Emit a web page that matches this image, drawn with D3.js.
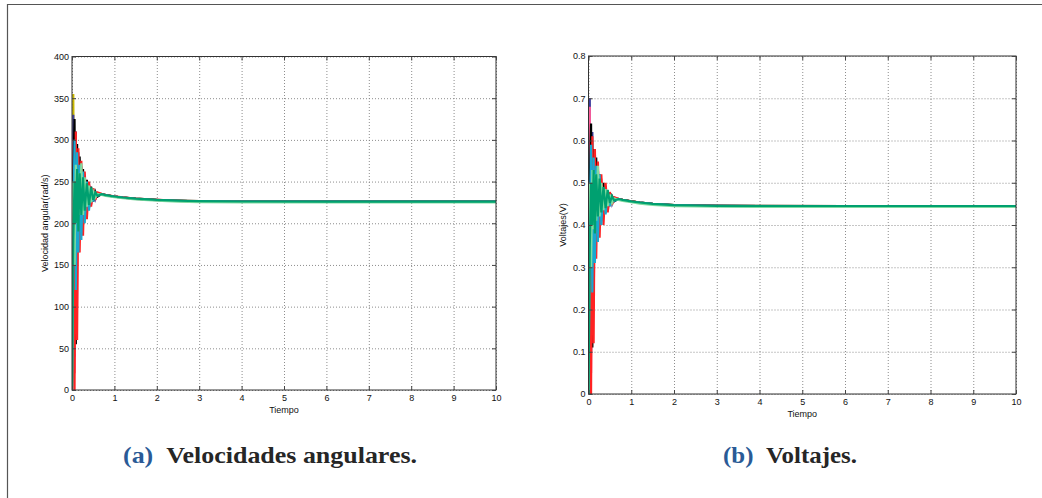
<!DOCTYPE html>
<html>
<head>
<meta charset="utf-8">
<script src="https://cdn.jsdelivr.net/npm/d3@7"></script>
<style>
  body { margin: 0; background: #fff; }
  svg { display: block; }
  .tick text { font-family: "Liberation Sans", Arial, sans-serif; font-size: 9px; fill: #111; }
  .grid line { stroke: #808080; stroke-dasharray: 1,2; stroke-width: 0.9; }
  .grid path { stroke: none; }
  .axis path { stroke: none; }
  .axis line { stroke: #444; }
</style>
</head>
<body>
<div id="chart"></div>
<script>
// sample times (s), shared by every series
const timeSteps = [0, 0.03, 0.06, 0.09, 0.12, 0.15, 0.18, 0.22, 0.26, 0.30, 0.35, 0.40, 0.45, 0.50, 0.55, 0.60,
  0.70, 0.80, 1.0, 1.2, 1.5, 2.0, 2.5, 3.0, 4.0, 6.0, 10.0];

const seriesColors = ["#c9b800", "#3b3b9c", "#ff5c9a", "#000000", "#ff2222", "#18a8d0", "#7fdca0", "#00a070"];

// velocidad angular (rad/s)
const velYellow = [0, 355, 120, 300, 190, 270, 205, 255, 215, 246, 222, 240, 226, 237, 230, 235,
  234.5, 233.5, 232, 230.8, 229.4, 227.9, 227, 226.4, 226, 226, 226];
const velNavy = [0, 330, 40, 310, 150, 285, 190, 268, 205, 255, 215, 246, 223, 240, 229, 236,
  234.8, 233.6, 231.9, 230.7, 229.3, 227.8, 226.9, 226.3, 225.9, 226, 226];
const velPink = [0, 300, 20, 280, 100, 260, 180, 265, 200, 258, 212, 248, 222, 240, 230, 235,
  234.6, 233.5, 231.9, 230.7, 229.3, 227.8, 226.9, 226.3, 226, 226, 226];
const velBlack = [0, 260, 325, 55, 295, 170, 280, 190, 265, 205, 252, 218, 244, 226, 238, 232,
  235, 233.8, 232.1, 230.9, 229.5, 228, 227, 226.4, 226, 226, 226];
const velRed = [0, 120, 0, 310, 60, 290, 165, 275, 185, 262, 205, 250, 220, 242, 228, 237,
  235.2, 233.9, 232.2, 231, 229.6, 228.1, 227.1, 226.5, 226, 226, 226];
const velCyan = [0, 200, 300, 120, 285, 165, 270, 180, 262, 200, 250, 215, 242, 226, 236, 233,
  234.7, 233.6, 232, 230.8, 229.4, 227.9, 227, 226.4, 225.9, 226, 226];
const velLightGreen = [0, 250, 150, 270, 200, 260, 210, 272, 210, 255, 220, 245, 225, 238, 231, 235,
  234.1, 232.9, 231.2, 230, 228.5, 227, 226, 225.4, 225, 225, 225];
const velGreen = [0, 180, 250, 200, 265, 190, 260, 210, 255, 215, 248, 222, 243, 228, 237, 233,
  234.9, 233.7, 232.1, 230.9, 229.5, 228, 227.1, 226.5, 226.1, 226, 226];

// voltajes (V)
const voltYellow = [0, 0.64, 0.25, 0.60, 0.36, 0.54, 0.40, 0.51, 0.42, 0.49, 0.43, 0.475, 0.44, 0.468, 0.452, 0.463,
  0.461, 0.459, 0.456, 0.453, 0.450, 0.447, 0.446, 0.4455, 0.445, 0.445, 0.445];
const voltNavy = [0, 0.70, 0.10, 0.62, 0.30, 0.57, 0.38, 0.53, 0.41, 0.50, 0.425, 0.485, 0.438, 0.472, 0.45, 0.465,
  0.4615, 0.4592, 0.4558, 0.4528, 0.4498, 0.4468, 0.4458, 0.4452, 0.4449, 0.445, 0.445];
const voltPink = [0, 0.68, 0.05, 0.56, 0.20, 0.52, 0.36, 0.53, 0.40, 0.51, 0.42, 0.49, 0.435, 0.47, 0.452, 0.463,
  0.4608, 0.4588, 0.4556, 0.4527, 0.4497, 0.4467, 0.4457, 0.4451, 0.445, 0.445, 0.445];
const voltBlack = [0, 0.50, 0.64, 0.11, 0.58, 0.34, 0.56, 0.38, 0.52, 0.41, 0.50, 0.43, 0.48, 0.445, 0.468, 0.456,
  0.4618, 0.4595, 0.4561, 0.4531, 0.4501, 0.4471, 0.446, 0.4454, 0.445, 0.445, 0.445];
const voltRed = [0, 0.25, 0.00, 0.61, 0.12, 0.58, 0.32, 0.55, 0.37, 0.52, 0.40, 0.50, 0.43, 0.478, 0.448, 0.466,
  0.4622, 0.4598, 0.4563, 0.4533, 0.4503, 0.4473, 0.4462, 0.4455, 0.4451, 0.445, 0.445];
const voltCyan = [0, 0.40, 0.59, 0.24, 0.56, 0.31, 0.54, 0.36, 0.52, 0.40, 0.49, 0.425, 0.478, 0.445, 0.466, 0.457,
  0.4612, 0.459, 0.4557, 0.4529, 0.4499, 0.4469, 0.4459, 0.4453, 0.4449, 0.445, 0.445];
const voltLightGreen = [0, 0.50, 0.30, 0.53, 0.39, 0.52, 0.41, 0.54, 0.42, 0.50, 0.435, 0.485, 0.445, 0.472, 0.452, 0.463,
  0.4595, 0.4572, 0.4538, 0.4508, 0.4478, 0.4449, 0.4438, 0.4432, 0.4428, 0.4427, 0.4427];
const voltGreen = [0, 0.35, 0.50, 0.40, 0.53, 0.38, 0.52, 0.42, 0.51, 0.43, 0.49, 0.44, 0.483, 0.452, 0.468, 0.458,
  0.4615, 0.4595, 0.456, 0.4532, 0.4502, 0.4472, 0.4461, 0.4455, 0.4451, 0.445, 0.445];

const xTickValues = [0, 1, 2, 3, 4, 5, 6, 7, 8, 9, 10];
const velTickValues = [0, 50, 100, 150, 200, 250, 300, 350, 400];
const voltTickValues = [0, 0.1, 0.2, 0.3, 0.4, 0.5, 0.6, 0.7, 0.8];

const W = 1042, H = 498;
const svg = d3.select("#chart").append("svg").attr("width", W).attr("height", H);

// page frame (top and left rules)
svg.append("line").attr("x1", 7).attr("x2", W).attr("y1", 4.5).attr("y2", 4.5)
  .attr("stroke", "#555").attr("stroke-width", 1.2);
svg.append("line").attr("x1", 7.5).attr("x2", 7.5).attr("y1", 4).attr("y2", H)
  .attr("stroke", "#555").attr("stroke-width", 1.2);

function drawPanel(cfg) {
  const g = svg.append("g");
  const x = d3.scaleLinear().domain([0, 10]).range([cfg.left, cfg.right]);
  const y = d3.scaleLinear().domain(cfg.yDomain).range([cfg.bottom, cfg.top]);
  const w = cfg.right - cfg.left, h = cfg.bottom - cfg.top;

  // dotted grid
  g.append("g").attr("class", "grid").attr("transform", `translate(0,${cfg.bottom})`)
    .call(d3.axisBottom(x).tickValues(xTickValues).tickSize(-h).tickFormat(""));
  g.append("g").attr("class", "grid").attr("transform", `translate(${cfg.left},0)`)
    .call(d3.axisLeft(y).tickValues(cfg.yTicks).tickSize(-w).tickFormat(""));

  const clipId = "clip" + cfg.id;
  svg.append("clipPath").attr("id", clipId).append("rect")
    .attr("x", cfg.left).attr("y", cfg.top - 1).attr("width", w).attr("height", h + 1);

  const line = d3.line().x((d, i) => x(timeSteps[i])).y(d => y(d));
  g.append("g").attr("clip-path", `url(#${clipId})`)
    .selectAll("path").data(cfg.series).join("path")
    .attr("d", d => line(d))
    .attr("fill", "none")
    .attr("stroke", (d, i) => seriesColors[i])
    .attr("stroke-width", 2.2)
    .attr("stroke-linejoin", "miter");

  // box
  g.append("rect").attr("x", cfg.left).attr("y", cfg.top).attr("width", w).attr("height", h)
    .attr("fill", "none").attr("stroke", "#333").attr("stroke-width", 1);

  // axes with inward ticks
  g.append("g").attr("class", "axis").attr("transform", `translate(0,${cfg.bottom})`)
    .call(d3.axisBottom(x).tickValues(xTickValues).tickSize(-4).tickPadding(5).tickFormat(d3.format("d")));
  g.append("g").attr("class", "axis").attr("transform", `translate(0,${cfg.top})`)
    .call(d3.axisTop(x).tickValues(xTickValues).tickSize(-4).tickFormat(""));
  g.append("g").attr("class", "axis").attr("transform", `translate(${cfg.left},0)`)
    .call(d3.axisLeft(y).tickValues(cfg.yTicks).tickSize(-4).tickPadding(3).tickFormat(cfg.yFormat));
  g.append("g").attr("class", "axis").attr("transform", `translate(${cfg.right},0)`)
    .call(d3.axisRight(y).tickValues(cfg.yTicks).tickSize(-4).tickFormat(""));

  g.append("text").attr("x", (cfg.left + cfg.right) / 2).attr("y", cfg.bottom + 23)
    .attr("text-anchor", "middle").attr("font-family", "Liberation Sans, Arial, sans-serif")
    .attr("font-size", 9).attr("fill", "#111").text("Tiempo");
  g.append("text")
    .attr("transform", `translate(${cfg.yLabelX},${(cfg.top + cfg.bottom) / 2}) rotate(-90)`)
    .attr("text-anchor", "middle").attr("font-family", "Liberation Sans, Arial, sans-serif")
    .attr("font-size", 9).attr("fill", "#111").text(cfg.yLabel);

  const cap = g.append("text").attr("x", cfg.capX).attr("y", 463)
    .attr("font-family", "Liberation Serif, serif")
    .attr("font-weight", "bold").attr("font-size", 24).attr("fill", "#262626")
    .attr("textLength", cfg.capWidth).attr("lengthAdjust", "spacingAndGlyphs");
  cap.append("tspan").attr("fill", "#2a5a96").text(cfg.capTag);
  cap.append("tspan").text("\u2002" + cfg.capText);
}

drawPanel({
  id: "a", left: 72, right: 496, top: 56.5, bottom: 390,
  yDomain: [0, 400], yTicks: velTickValues, yFormat: d3.format("d"),
  yLabel: "Velocidad angular(rad/s)", yLabelX: 48,
  series: [velYellow, velNavy, velPink, velBlack, velRed, velCyan, velLightGreen, velGreen],
  capX: 123, capWidth: 294, capTag: "(a)", capText: "Velocidades angulares."
});

drawPanel({
  id: "b", left: 588.5, right: 1016, top: 56, bottom: 394,
  yDomain: [0, 0.8], yTicks: voltTickValues, yFormat: d => d === 0 ? "0" : d3.format(".1f")(d),
  yLabel: "Voltajes(V)", yLabelX: 566,
  series: [voltYellow, voltNavy, voltPink, voltBlack, voltRed, voltCyan, voltLightGreen, voltGreen],
  capX: 723, capWidth: 134, capTag: "(b)", capText: "Voltajes."
});
</script>
</body>
</html>
